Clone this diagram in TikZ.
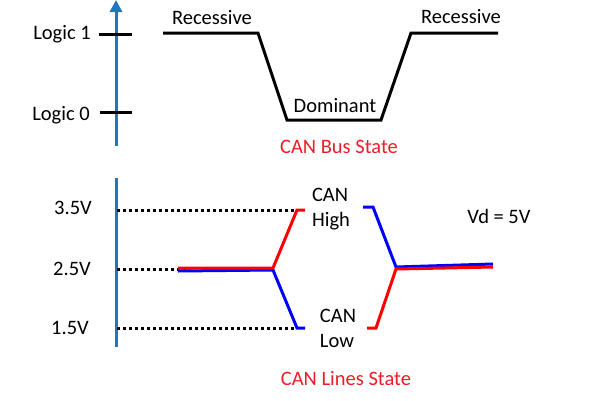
\documentclass[tikz,border=0pt]{standalone}
\usepackage{fontspec}
\setmainfont{Carlito}
\usetikzlibrary{arrows.meta}
\definecolor{axisblue}{RGB}{30,120,190}
\definecolor{txtred}{RGB}{235,30,40}
\definecolor{linered}{RGB}{255,0,0}
\definecolor{lineblue}{RGB}{0,0,255}
\begin{document}
\begin{tikzpicture}[x=1pt,y=-1pt,
  lbl/.style={font=\fontsize{20.5}{25}\selectfont, inner sep=0pt},
  redlbl/.style={lbl, text=txtred},
  axis/.style={axisblue, line width=3pt},
  tick/.style={black, line width=3pt},
  wave/.style={black, line width=3pt, line join=miter},
  dots/.style={black, line width=3pt, dash pattern=on 3pt off 3pt},
  hi/.style={linered, line width=3pt},
  lo/.style={lineblue, line width=3pt}]
\useasboundingbox (0,0) rectangle (597,400);
% top axis
\coordinate (ta0) at (116,146);
\coordinate (ta1) at (116,0);
\draw[axis, -{Triangle[length=12pt,width=12pt]}] (ta0) -- (ta1);
\coordinate (t1a) at (99,34); \coordinate (t1b) at (132,34);
\coordinate (t0a) at (100,112); \coordinate (t0b) at (132,112);
\draw[tick] (t1a) -- (t1b);
\draw[tick] (t0a) -- (t0b);
\node[lbl, anchor=east] (l1) at (91,34) {Logic 1};
\node[lbl, anchor=east] (l0) at (90,115) {Logic 0};
% bus waveform
\coordinate (w1) at (163,33); \coordinate (w2) at (258,33);
\coordinate (w3) at (287,120); \coordinate (w4) at (381,120);
\coordinate (w5) at (411,33); \coordinate (w6) at (498,33);
\draw[wave] (w1) -- (w2) -- (w3) -- (w4) -- (w5) -- (w6);
\node[lbl] (rec1) at (212,18) {Recessive};
\node[lbl] (rec2) at (461,17) {Recessive};
\node[lbl] (dom) at (335,106) {Dominant};
\node[redlbl] (bus) at (339,147) {CAN Bus State};
% bottom axis
\coordinate (ba0) at (116,178); \coordinate (ba1) at (116,347);
\draw[axis] (ba0) -- (ba1);
\node[lbl] (v35) at (73,208) {3.5V};
\node[lbl] (v25) at (72,269) {2.5V};
\node[lbl] (v15) at (70,328) {1.5V};
\coordinate (d1a) at (117,210); \coordinate (d1b) at (296,210);
\coordinate (d2a) at (117,269); \coordinate (d2b) at (190,269);
\coordinate (d3a) at (117,328); \coordinate (d3b) at (296,328);
\draw[dots] (d1a) -- (d1b);
\draw[dots] (d2a) -- (d2b);
\draw[dots] (d3a) -- (d3b);
% lines state 1
\coordinate (b1) at (178,271); \coordinate (b2) at (273,270);
\coordinate (b3) at (297,328); \coordinate (b4) at (305,328);
\draw[lo] (b1) -- (b2) -- (b3) -- (b4);
\coordinate (r1) at (178,268); \coordinate (r2) at (273,268);
\coordinate (r3) at (297,210); \coordinate (r4) at (305,210);
\draw[hi] (r1) -- (r2) -- (r3) -- (r4);
% lines state 2
\coordinate (b5) at (363,207); \coordinate (b6) at (373,207);
\coordinate (b7) at (396,267); \coordinate (b8) at (493,264);
\draw[lo] (b5) -- (b6) -- (b7) -- (b8);
\coordinate (r5) at (367,328); \coordinate (r6) at (376,328);
\coordinate (r7) at (396,269); \coordinate (r8) at (493,267);
\draw[hi] (r5) -- (r6) -- (r7) -- (r8);
\node[lbl, align=left] (canh) at (331,209) {CAN\\High};
\node[lbl, align=left] (canl) at (338,328) {CAN\\Low};
\node[lbl] (vd) at (499,216) {Vd = 5V};
\node[redlbl] (lines) at (346,379) {CAN Lines State};
\end{tikzpicture}
\end{document}
